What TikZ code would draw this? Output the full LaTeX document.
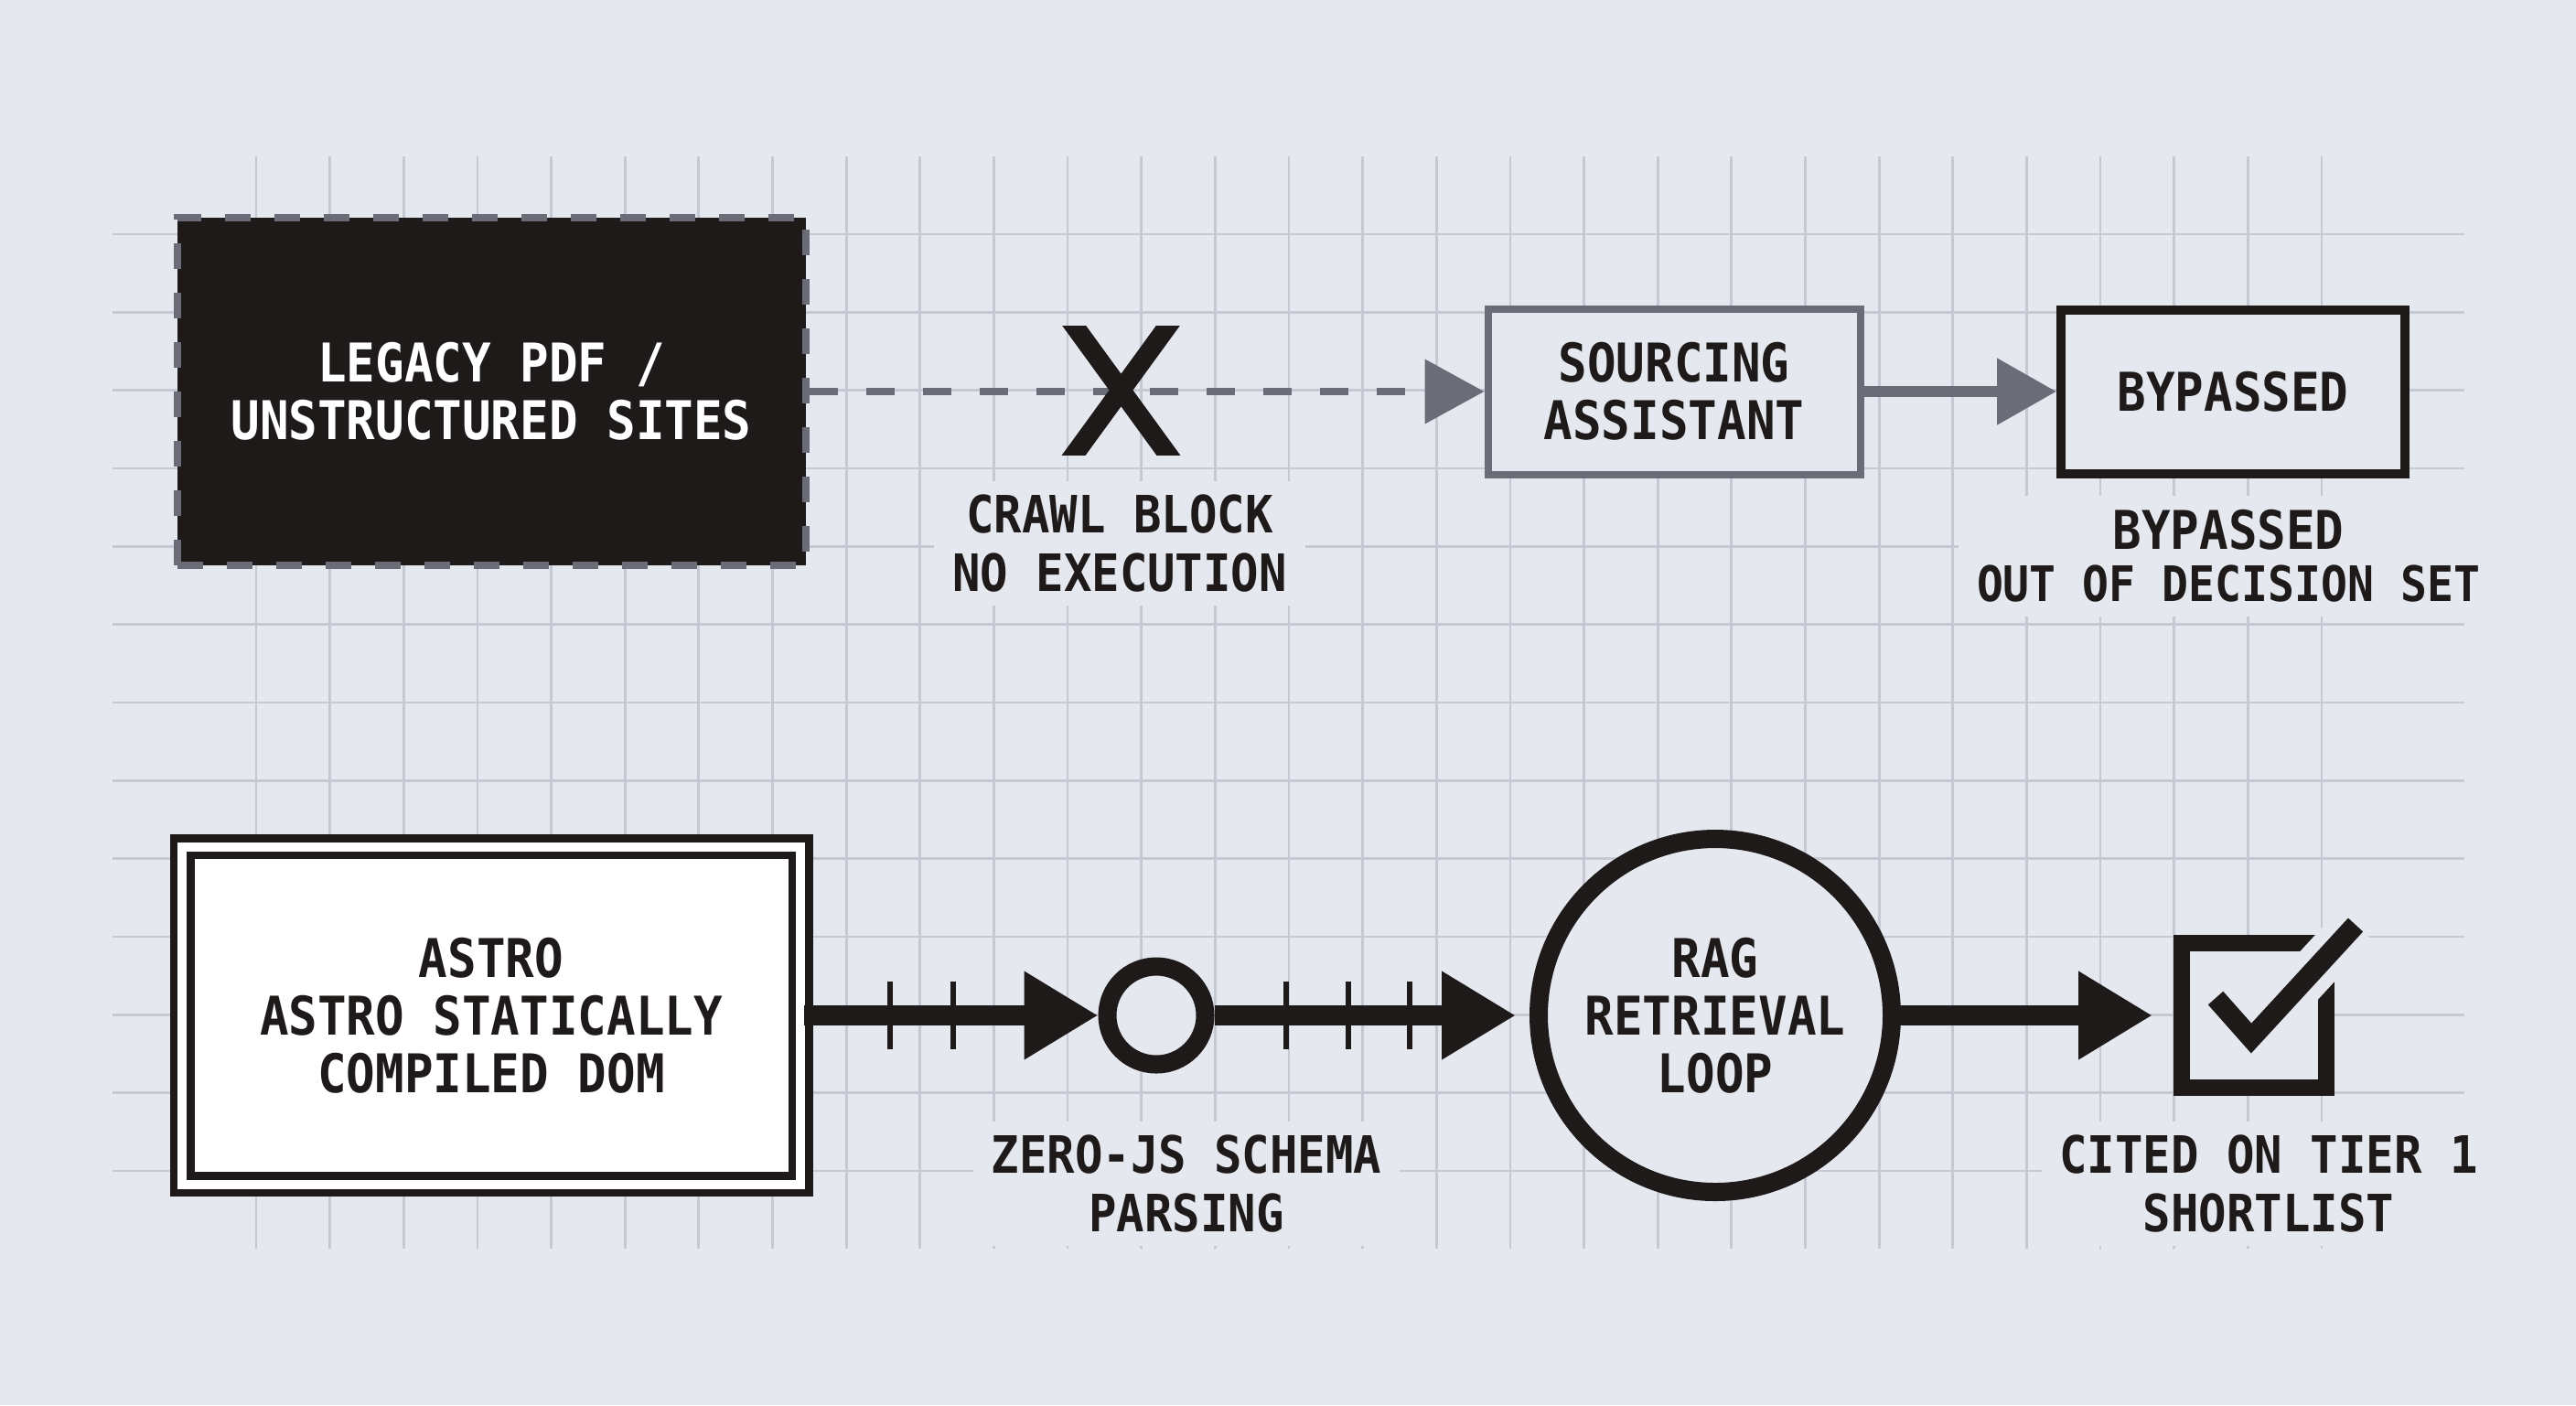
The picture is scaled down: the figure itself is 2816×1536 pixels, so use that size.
\documentclass[tikz,border=0pt]{standalone}
\usepackage{fontspec}
\newfontfamily\diagfont[FakeStretch=0.9]{DejaVu Sans Mono}
\usetikzlibrary{arrows.meta}
\definecolor{paper}{HTML}{E6E8EF}
\definecolor{gridc}{HTML}{C6C9D3}
\definecolor{ink}{HTML}{1E1A19}
\definecolor{slate}{HTML}{6B6C78}
\tikzset{
    every node/.style={font=\diagfont\bfseries\fontsize{16}{18}\selectfont,
    	align=center, text=ink, inner sep=0pt}
}
\tikzset{
    box/.style={rectangle, draw, fill=paper, font=\diagfont\bfseries\fontsize{16.6}{18}\selectfont},
    tag/.style={fill=paper, inner xsep=2mm, inner ysep=1.5mm},
    gridline/.style={draw=gridc, line width=0.28mm},
    tick/.style={draw=ink, line width=0.65mm}
}
\tikzset{
    wire/.style={ink, line width=2.2mm, -{Triangle[length=8.1mm,width=9.1mm]}},
    greywire/.style={slate, line width=1.2mm, -{Triangle[length=6.5mm,width=7mm]}}
}

\begin{document}
\begin{tikzpicture}[x=0.1mm, y=-0.1mm]
	\useasboundingbox (0, 0) rectangle (2816, 1536);
	\fill [paper] (0, 0) rectangle (2816, 1536);
	\foreach \gx in {0,...,28}
		\draw [gridline] (280+80.64*\gx, 171) -- (280+80.64*\gx, 1365);
	\foreach \gy in {0,...,12}
		\draw [gridline] (123, 256+85.33*\gy) -- (2694, 256+85.33*\gy);

	\node (legacy) [box, fill=ink, draw=slate, line width=0.8mm, dash pattern=on 2.8mm off 2.6mm,
		minimum width=68.7mm, minimum height=38mm, text=white] at (537, 428) {LEGACY PDF /\\UNSTRUCTURED SITES};
	\node (src) [box, draw=slate, line width=0.8mm, minimum width=40.7mm, minimum height=18.1mm] at (1830, 428) {SOURCING\\ASSISTANT};
	\node (byp) [box, draw=ink, line width=1mm, minimum width=37.6mm, minimum height=17.9mm] at (2441, 428) {BYPASSED};
	\node (crawl) [tag] at (1224, 594) {CRAWL BLOCK\\NO EXECUTION};
	\node (bypnote) [tag, font=\diagfont\bfseries\fontsize{16.6}{18}\selectfont] at (2436, 608)
		{BYPASSED\\[-0.6mm]{\fontsize{15.2}{18}\selectfont OUT OF DECISION SET}};
	\coordinate (block) at (1225, 427);

	\node (astro) [box, draw=ink, fill=white, line width=0.85mm, double=white, double distance=1mm,
		minimum width=67.6mm, minimum height=36.9mm] at (537, 1110) {ASTRO\\ASTRO STATICALLY\\COMPILED DOM};
	\node (parse) [circle, draw=ink, fill=paper, line width=2mm, minimum size=10.7mm] at (1264, 1110) {};
	\node (rag) [circle, draw=ink, fill=paper, line width=2mm, minimum size=38.6mm,
		font=\diagfont\bfseries\fontsize{16.6}{18}\selectfont] at (1875, 1110) {RAG\\RETRIEVAL\\LOOP};
	\node (check) [box, draw=ink, line width=1.8mm, minimum size=15.8mm] at (2464, 1110) {};
	\node (parsenote) [tag] at (1297, 1294) {ZERO-JS SCHEMA\\PARSING};
	\node (citednote) [tag] at (2480, 1294) {CITED ON TIER 1\\SHORTLIST};

	\draw [slate, line width=0.8mm, dash pattern=on 3.1mm off 3.1mm,
		-{Triangle[length=6.5mm,width=6.9mm]}] (legacy) -- (src);
	\draw [greywire] (src) -- (byp);
	\draw [wire] (astro) -- (parse);
	\draw [wire, shorten >=1.5mm] (parse) -- (rag);
	\draw [wire, shorten >=2.3mm] (rag) -- (check);
	\foreach \tx in {973, 1042, 1406, 1474, 1541}
		\draw [tick] (\tx, 1073) -- (\tx, 1147);

	\begin{scope}
		\clip (1140, 356) rectangle (1310, 497);
		\draw [ink, line width=2.1mm] (1164, 342) -- (1287, 511) (1287, 342) -- (1164, 511);
	\end{scope}

	\draw [paper, line width=5mm] (2461, 1135) -- (2575, 1011);
	\draw [ink, line width=2.2mm] (2422, 1091) -- (2461, 1135) -- (2575, 1011);
\end{tikzpicture}
\end{document}
